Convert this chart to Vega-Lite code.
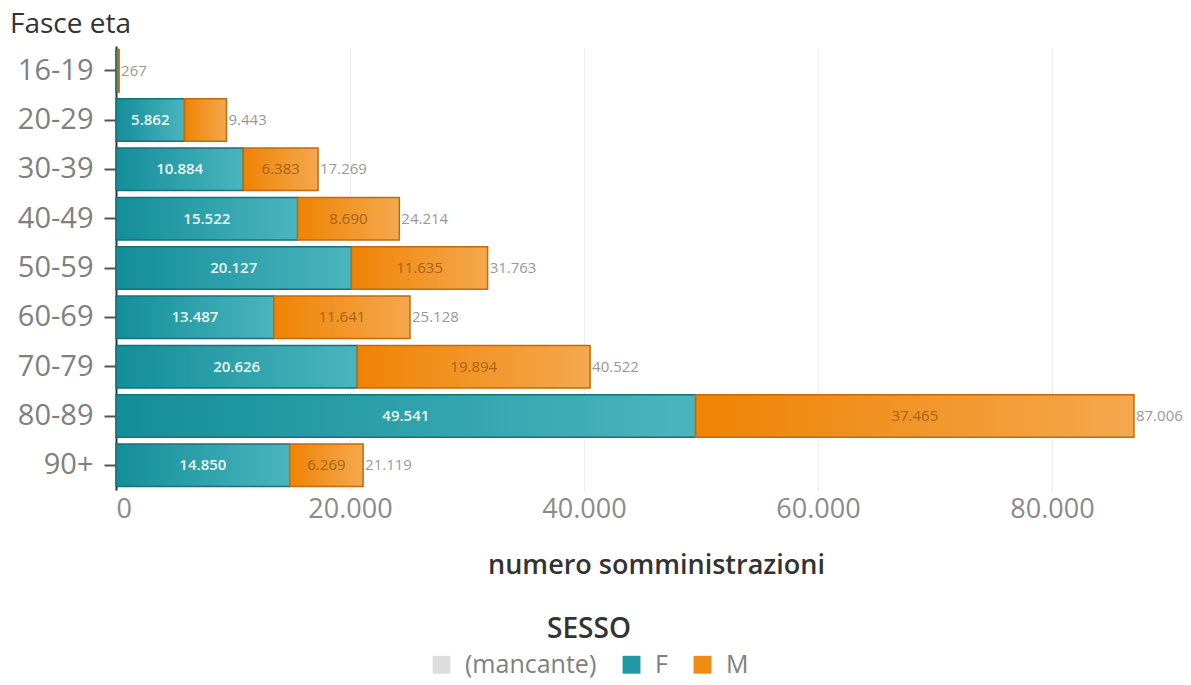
{
  "$schema": "https://vega.github.io/schema/vega-lite/v6.json",
  "autosize": {"type": "none"},
  "width": 1053,
  "height": 444,
  "padding": {"left": 116, "top": 46, "right": 22, "bottom": 195},
  "title": {"text": "Fasce eta", "anchor": "start", "frame": "group", "dx": -106, "offset": 7, "fontSize": 28, "fontWeight": 500, "color": "#333333", "font": "Open Sans"},
  "config": {
    "locale": {"number": {"decimal": ",", "thousands": ".", "grouping": [3], "currency": ["€", ""]}},
    "font": "Open Sans",
    "view": {"stroke": null}
  },
  "data": {
    "values": [
      {"fascia": "16-19", "sesso": "F", "value": 150},
      {"fascia": "16-19", "sesso": "M", "value": 117},
      {"fascia": "20-29", "sesso": "F", "value": 5862},
      {"fascia": "20-29", "sesso": "M", "value": 3581},
      {"fascia": "30-39", "sesso": "(mancante)", "value": 2},
      {"fascia": "30-39", "sesso": "F", "value": 10884},
      {"fascia": "30-39", "sesso": "M", "value": 6383},
      {"fascia": "40-49", "sesso": "(mancante)", "value": 2},
      {"fascia": "40-49", "sesso": "F", "value": 15522},
      {"fascia": "40-49", "sesso": "M", "value": 8690},
      {"fascia": "50-59", "sesso": "(mancante)", "value": 1},
      {"fascia": "50-59", "sesso": "F", "value": 20127},
      {"fascia": "50-59", "sesso": "M", "value": 11635},
      {"fascia": "60-69", "sesso": "F", "value": 13487},
      {"fascia": "60-69", "sesso": "M", "value": 11641},
      {"fascia": "70-79", "sesso": "(mancante)", "value": 2},
      {"fascia": "70-79", "sesso": "F", "value": 20626},
      {"fascia": "70-79", "sesso": "M", "value": 19894},
      {"fascia": "80-89", "sesso": "F", "value": 49541},
      {"fascia": "80-89", "sesso": "M", "value": 37465},
      {"fascia": "90+", "sesso": "F", "value": 14850},
      {"fascia": "90+", "sesso": "M", "value": 6269}
    ]
  },
  "transform": [
    {"stack": "value", "groupby": ["fascia"], "sort": [{"field": "sesso", "order": "ascending"}], "as": ["x0", "x1"]},
    {"calculate": "(datum.x0 + datum.x1) / 2", "as": "mid"}
  ],
  "encoding": {
    "y": {
      "field": "fascia", "type": "nominal",
      "sort": ["16-19", "20-29", "30-39", "40-49", "50-59", "60-69", "70-79", "80-89", "90+"],
      "scale": {"paddingInner": 0.14, "paddingOuter": 0.07},
      "axis": {
        "title": null, "domain": true, "domainColor": "#333333", "domainWidth": 2,
        "ticks": true, "tickColor": "#555555", "tickWidth": 2, "tickSize": 12,
        "labelFontSize": 29, "labelColor": "#808080", "labelPadding": 11, "labelFont": "Open Sans"
      }
    }
  },
  "layer": [
    {
      "mark": {"type": "bar"},
      "encoding": {
        "x": {
          "field": "x0", "type": "quantitative",
          "scale": {"domain": [0, 90000], "nice": false},
          "axis": {
            "title": "numero somministrazioni", "titleFontSize": 27, "titleFontWeight": 600, "titleColor": "#333333", "titlePadding": 30, "titleX": 540,
            "values": [0, 20000, 40000, 60000, 80000], "format": ",d", "labelFlush": true,
            "labelFontSize": 27, "labelColor": "#8a8a8a", "labelPadding": 6,
            "domain": false, "ticks": false,
            "grid": true, "gridColor": "#dddddd", "gridDash": [2, 2], "gridWidth": 1
          }
        },
        "x2": {"field": "x1"},
        "color": {
          "field": "sesso", "type": "nominal",
          "scale": {"domain": ["(mancante)", "F", "M"], "range": ["#dddddd", "#1f9aa4", "#f08c14"]},
          "legend": {
            "title": "SESSO", "orient": "none", "direction": "horizontal",
            "legendX": 313, "legendY": 570,
            "titleFontSize": 28, "titleFontWeight": 600, "titleColor": "#333333", "titleAnchor": "middle", "titlePadding": 8,
            "labelFontSize": 25, "labelColor": "#808080", "labelOffset": 11,
            "symbolType": "square", "symbolSize": 320, "symbolStrokeWidth": 1,
            "columnPadding": 22
          }
        }
      }
    },
    {
      "transform": [{"filter": "datum.sesso == 'F'"}],
      "mark": {"type": "bar", "stroke": "#17707a", "strokeWidth": 1.5,
        "fill": {"gradient": "linear", "x1": 0, "x2": 1, "y1": 0, "y2": 0, "stops": [{"offset": 0, "color": "#138e99"}, {"offset": 1, "color": "#4ab5be"}]}},
      "encoding": {"x": {"field": "x0", "type": "quantitative"}, "x2": {"field": "x1"}}
    },
    {
      "transform": [{"filter": "datum.sesso == 'M'"}],
      "mark": {"type": "bar", "stroke": "#c46a0a", "strokeWidth": 1.5,
        "fill": {"gradient": "linear", "x1": 0, "x2": 1, "y1": 0, "y2": 0, "stops": [{"offset": 0, "color": "#ef8304"}, {"offset": 1, "color": "#f4a84e"}]}},
      "encoding": {"x": {"field": "x0", "type": "quantitative"}, "x2": {"field": "x1"}}
    },
    {
      "transform": [{"filter": "datum.sesso == 'F' && datum.value > 4000"}],
      "mark": {"type": "text", "color": "#ffffff", "fontSize": 15, "fontWeight": 600, "opacity": 0.9},
      "encoding": {"x": {"field": "mid", "type": "quantitative"}, "text": {"field": "value", "type": "quantitative", "format": ",d"}}
    },
    {
      "transform": [{"filter": "datum.sesso == 'M' && datum.value > 4000"}],
      "mark": {"type": "text", "color": "#9a5a14", "fontSize": 15, "opacity": 0.85},
      "encoding": {"x": {"field": "mid", "type": "quantitative"}, "text": {"field": "value", "type": "quantitative", "format": ",d"}}
    },
    {
      "transform": [{"aggregate": [{"op": "sum", "field": "value", "as": "total"}], "groupby": ["fascia"]}],
      "mark": {"type": "text", "color": "#999999", "fontSize": 15, "align": "left", "dx": 2},
      "encoding": {"x": {"field": "total", "type": "quantitative"}, "text": {"field": "total", "type": "quantitative", "format": ",d"}}
    }
  ]
}
